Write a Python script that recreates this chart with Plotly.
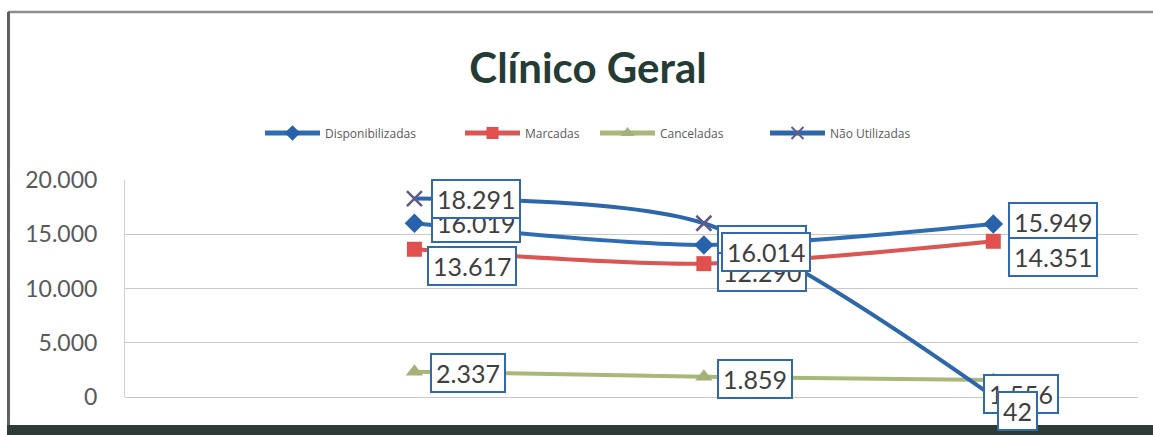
import plotly.graph_objects as go

# --- data -------------------------------------------------------------
positions = [1, 2, 3]
series_names = ["Disponibilizadas", "Marcadas", "Canceladas", "Não Utilizadas"]
disponibilizadas = [16019, 14010, 15949]
marcadas = [13617, 12290, 14351]
canceladas = [2337, 1859, 1556]
nao_utilizadas = [18291, 16014, 42]
y_ticks = [0, 5000, 10000, 15000, 20000]

# --- geometry of the figure (px) --------------------------------------
W, H = 1153, 435
L, R, T, B = 125, 15, 180, 38
PW, PH = W - L - R, H - T - B


def px_x(px):
    return (px - L) / PW


def px_y(py):
    return (H - B - py) / PH


def fmt(v):
    return f"{v:,}".replace(",", ".")


styles = {
    "Disponibilizadas": dict(line="#2f6cb3", marker=dict(symbol="diamond", size=15, color="#2862aa")),
    "Marcadas": dict(line="#db5552", marker=dict(symbol="square", size=15, color="#e0504f")),
    "Canceladas": dict(line="#a9b878", marker=dict(symbol="triangle-up", size=15, color="#a3b278")),
    "Não Utilizadas": dict(line="#2d66ab", marker=dict(symbol="x-thin", size=15, color="#5f5a8a",
                                                        line=dict(width=2.5, color="#5f5a8a"))),
}
values = {
    "Disponibilizadas": disponibilizadas,
    "Marcadas": marcadas,
    "Canceladas": canceladas,
    "Não Utilizadas": nao_utilizadas,
}
# one legend box per series so each entry sits at its own left edge (px)
legend_ids = ["legend", "legend2", "legend3", "legend4"]
legend_left = [262, 462, 597, 767]

fig = go.Figure()
for name, lid in zip(series_names, legend_ids):
    st = styles[name]
    fig.add_trace(go.Scatter(
        x=positions, y=values[name], name=name, mode="lines+markers",
        line=dict(color=st["line"], width=4, shape="spline", smoothing=0.8),
        marker=st["marker"], cliponaxis=False, legend=lid, showlegend=True,
    ))

# data labels: (xshift, yshift) per point, drawn series by series
label_offsets = {
    "Disponibilizadas": [(17, 0), (13, 0), (15, 2)],
    "Marcadas": [(13, -17), (13, -8), (15, -16)],
    "Canceladas": [(16, -1), (13, -2), (-10, -14)],
    "Não Utilizadas": [(17, 0), (17, -29), (4, -14)],
}
annotations = []
for name in series_names:
    for i, (dx, dy) in enumerate(label_offsets[name]):
        annotations.append(dict(
            x=positions[i], y=values[name][i], xref="x", yref="y",
            text=fmt(values[name][i]), showarrow=False,
            xanchor="left", yanchor="middle", xshift=dx, yshift=dy,
            font=dict(family="Lato, 'Open Sans', sans-serif", size=25, color="#3f3f3f"),
            bgcolor="white", bordercolor="#2f6aae", borderwidth=2,
            borderpad=4, height=28,
        ))

# outer frame of the chart area
shapes = [
    dict(type="line", xref="paper", yref="paper", x0=px_x(8), x1=px_x(W + 5),
         y0=px_y(12), y1=px_y(12), line=dict(color="#8c8c8c", width=2.5), layer="below"),
    dict(type="line", xref="paper", yref="paper", x0=px_x(8.5), x1=px_x(8.5),
         y0=px_y(12), y1=px_y(428), line=dict(color="#5e6360", width=3), layer="below"),
    dict(type="rect", xref="paper", yref="paper", x0=px_x(7), x1=px_x(W + 5),
         y0=px_y(425), y1=px_y(H + 5), fillcolor="#2e3c37", line=dict(width=0), layer="below"),
]

legend_common = dict(
    orientation="h", xref="container", xanchor="left",
    y=1 - 133 / H, yref="container", yanchor="middle",
    font=dict(family="'Open Sans', sans-serif", size=12, color="#5a5a5a"),
    itemwidth=55, itemsizing="constant", bgcolor="rgba(0,0,0,0)", visible=True,
)
legends = {lid: dict(legend_common, x=(lx - 2) / W) for lid, lx in zip(legend_ids, legend_left)}

fig.update_layout(
    width=W, height=H,
    margin=dict(l=L, r=R, t=T, b=B, autoexpand=False),
    paper_bgcolor="white", plot_bgcolor="white",
    separators=",.",
    showlegend=True,
    title=dict(text="<b>Clínico Geral</b>", x=588 / W, xref="container", xanchor="center",
               y=1 - 68 / H, yref="container", yanchor="middle",
               font=dict(family="Lato, 'Open Sans', sans-serif", size=42, color="#243c35")),
    xaxis=dict(range=[0, 3.5], showgrid=False, zeroline=False, showticklabels=False,
               ticks="", showline=False, fixedrange=True),
    yaxis=dict(range=[0, 20000], tickvals=y_ticks, tickformat=",d",
               showgrid=True, gridcolor="#c9c9c9", gridwidth=1, zeroline=True,
               zerolinecolor="#c9c9c9", zerolinewidth=1,
               showline=True, linecolor="#cfcfcf", linewidth=1, ticks="",
               ticklabelstandoff=22,
               tickfont=dict(family="Lato, 'Open Sans', sans-serif", size=23, color="#595959")),
    annotations=annotations,
    shapes=shapes,
    **legends,
)

fig.write_html("out.html")
